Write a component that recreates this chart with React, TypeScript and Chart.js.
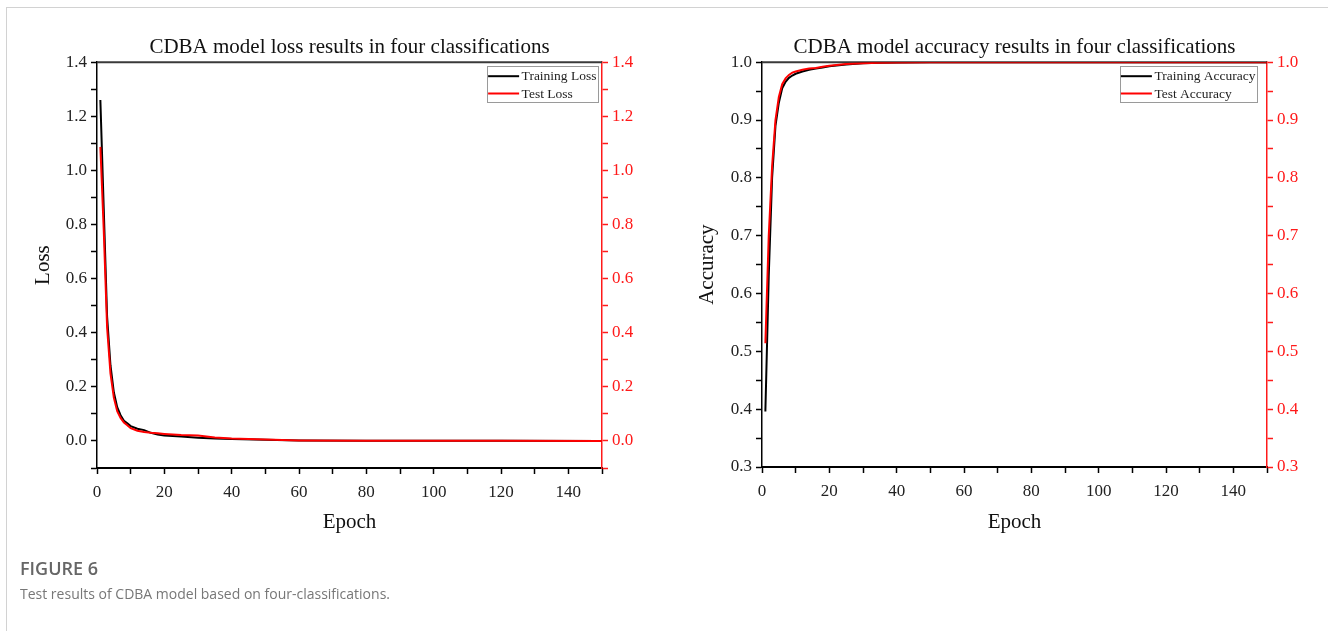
import React, { useEffect, useRef } from "react";
import { Chart, registerables } from "chart.js";

Chart.register(...registerables);

// ---------- data ----------
const lossEpochs = [1, 2, 3, 4, 5, 6, 7, 8, 9, 10, 12, 14, 16, 18, 20, 25, 30, 35, 40, 50, 60, 80, 100, 120, 150];
const trainLoss = [1.26, 0.86, 0.46, 0.28, 0.18, 0.125, 0.095, 0.075, 0.065, 0.055, 0.045, 0.04, 0.03, 0.024, 0.02, 0.016, 0.012, 0.009, 0.007, 0.004, 0.002, 0.001, 0.0005, 0.0003, 0.0002];
const testLoss = [1.087, 0.78, 0.42, 0.25, 0.16, 0.11, 0.085, 0.068, 0.058, 0.047, 0.038, 0.033, 0.03, 0.028, 0.026, 0.022, 0.02, 0.013, 0.009, 0.005, 0.002, 0.001, 0.0005, 0.0003, 0.0002];

const accEpochs = [1, 2, 3, 4, 5, 6, 7, 8, 9, 10, 12, 14, 16, 18, 20, 25, 30, 35, 40, 50, 60, 80, 100, 120, 150];
const trainAcc = [0.396, 0.63, 0.8, 0.89, 0.93, 0.955, 0.966, 0.973, 0.977, 0.98, 0.984, 0.987, 0.989, 0.991, 0.993, 0.996, 0.998, 0.999, 0.9995, 1, 1, 1, 1, 1, 1];
const testAcc = [0.514, 0.7, 0.82, 0.9, 0.94, 0.962, 0.972, 0.978, 0.982, 0.984, 0.987, 0.989, 0.99, 0.992, 0.994, 0.997, 0.998, 0.999, 0.9995, 1, 1, 1, 1, 1, 1];

const epochTicks = [0, 10, 20, 30, 40, 50, 60, 70, 80, 90, 100, 110, 120, 130, 140, 150];
const epochLabels = [0, 20, 40, 60, 80, 100, 120, 140];
const lossTicks = [-0.1, 0, 0.1, 0.2, 0.3, 0.4, 0.5, 0.6, 0.7, 0.8, 0.9, 1.0, 1.1, 1.2, 1.3, 1.4];
const lossLabels = [0, 0.2, 0.4, 0.6, 0.8, 1.0, 1.2, 1.4];
const accTicks = [0.3, 0.35, 0.4, 0.45, 0.5, 0.55, 0.6, 0.65, 0.7, 0.75, 0.8, 0.85, 0.9, 0.95, 1.0];
const accLabels = [0.3, 0.4, 0.5, 0.6, 0.7, 0.8, 0.9, 1.0];

const SERIF = "'Liberation Serif', 'Times New Roman', serif";
const RED = "#ff1a1a";

const framePlugin = {
  id: "frame",
  beforeDatasetsDraw(chart: any) {
    const { ctx, chartArea: a } = chart;
    ctx.save();
    ctx.strokeStyle = "#3a3a3a";
    ctx.lineWidth = 2;
    ctx.beginPath();
    ctx.moveTo(a.left, a.top);
    ctx.lineTo(a.right, a.top);
    ctx.stroke();
    ctx.restore();
  },
  afterDraw(chart: any, _args: any, opts: any) {
    const { ctx, chartArea: a } = chart;
    const items = chart.data.datasets;
    ctx.save();
    ctx.font = `13.5px ${SERIF}`;
    const textW = Math.max(...items.map((d: any) => ctx.measureText(d.label).width));
    const padL = 1, lineLen = 31, gap = 2.5, padR = 1.5;
    const w = padL + lineLen + gap + textW + padR;
    const h = 36;
    const x = a.right - (opts.rightGap || 4) - w;
    const y = a.top + 4;
    ctx.fillStyle = "#fff";
    ctx.fillRect(x, y, w, h);
    ctx.strokeStyle = "#9a9a9a";
    ctx.lineWidth = 1;
    ctx.strokeRect(Math.round(x) + 0.5, Math.round(y) + 0.5, Math.round(w), Math.round(h));
    items.forEach((d: any, i: number) => {
      const cy = y + 10 + i * 17.3;
      ctx.strokeStyle = d.borderColor;
      ctx.lineWidth = 2;
      ctx.beginPath();
      ctx.moveTo(x + padL, cy);
      ctx.lineTo(x + padL + lineLen, cy);
      ctx.stroke();
      ctx.fillStyle = "#222";
      ctx.textBaseline = "middle";
      ctx.textAlign = "left";
      ctx.fillText(d.label, x + padL + lineLen + gap, cy + 0.5);
    });
    ctx.restore();
  },
};

function near(list: number[], v: number) {
  return list.some((l) => Math.abs(l - v) < 1e-6);
}

function makeConfig(p: any) {
  const yTickOpts = (color: string) => ({
    color,
    font: { family: SERIF, size: 17 },
    padding: 4,
    autoSkip: false,
    callback: (v: number) => (near(p.yLabels, v) ? v.toFixed(1) : ""),
  });
  return {
    type: "line",
    data: {
      datasets: [
        {
          label: p.trainLabel,
          data: p.epochs.map((e: number, i: number) => ({ x: e, y: p.train[i] })),
          borderColor: "#000000",
          borderWidth: 2,
          pointRadius: 0,
          tension: 0,
          order: 2,
          yAxisID: "y",
        },
        {
          label: p.testLabel,
          data: p.epochs.map((e: number, i: number) => ({ x: e, y: p.test[i] })),
          borderColor: "#ff0000",
          borderWidth: 2,
          pointRadius: 0,
          tension: 0,
          order: 1,
          yAxisID: "y",
        },
      ],
    },
    options: {
      animation: false,
      responsive: false,
      maintainAspectRatio: false,
      layout: { padding: 0 },
      plugins: {
        legend: { display: false },
        tooltip: { enabled: false },
        title: {
          display: true,
          text: p.title,
          fullSize: false,
          color: "#111",
          font: { family: SERIF, size: 21, weight: "normal", lineHeight: 1.2 },
          padding: { top: 35, bottom: 2 },
        },
        frame: { rightGap: p.legendGap },
      },
      scales: {
        x: {
          type: "linear",
          min: 0,
          max: 150,
          afterBuildTicks: (s: any) => {
            s.ticks = epochTicks.map((v) => ({ value: v }));
          },
          afterFit: (s: any) => {
            s.height = p.xHeight;
          },
          ticks: {
            color: "#222",
            font: { family: SERIF, size: 17 },
            padding: 8,
            autoSkip: false,
            maxRotation: 0,
            callback: (v: number) => (near(epochLabels, v) ? String(v) : ""),
          },
          grid: { drawOnChartArea: false, drawTicks: true, tickLength: 6, tickColor: "#000", tickWidth: 1.5 },
          border: { display: true, color: "#000", width: 2 },
          title: {
            display: true,
            text: "Epoch",
            color: "#111",
            font: { family: SERIF, size: 21, lineHeight: 1.2 },
            padding: { top: 0, bottom: 25 },
          },
        },
        y: {
          type: "linear",
          position: "left",
          min: p.yMin,
          max: p.yMax,
          afterBuildTicks: (s: any) => {
            s.ticks = p.yTicks.map((v: number) => ({ value: v }));
          },
          afterFit: (s: any) => {
            s.width = p.leftWidth;
          },
          ticks: yTickOpts("#222"),
          grid: { drawOnChartArea: false, drawTicks: true, tickLength: 6, tickColor: "#000", tickWidth: 1.5 },
          border: { display: true, color: "#000", width: 1.5 },
          title: {
            display: true,
            text: p.yTitle,
            color: "#111",
            font: { family: SERIF, size: 21, lineHeight: 1.2 },
            padding: { top: 31, bottom: 0 },
          },
        },
        y2: {
          type: "linear",
          position: "right",
          min: p.yMin,
          max: p.yMax,
          afterBuildTicks: (s: any) => {
            s.ticks = p.yTicks.map((v: number) => ({ value: v }));
          },
          afterFit: (s: any) => {
            s.width = p.rightWidth;
          },
          ticks: yTickOpts(RED),
          grid: { drawOnChartArea: false, drawTicks: true, tickLength: 6, tickColor: RED, tickWidth: 1.5 },
          border: { display: true, color: RED, width: 1.5 },
        },
      },
    },
    plugins: [framePlugin],
  };
}

function ChartBox({ config, left, width, height }: any) {
  const ref = useRef<HTMLCanvasElement | null>(null);
  useEffect(() => {
    if (!ref.current) return;
    const chart = new Chart(ref.current, config as any);
    return () => chart.destroy();
  }, []);
  return (
    <canvas
      ref={ref}
      width={width}
      height={height}
      style={{ position: "absolute", left, top: 0, width, height }}
    />
  );
}

const lossConfig = makeConfig({
  epochs: lossEpochs,
  train: trainLoss,
  test: testLoss,
  trainLabel: "Training Loss",
  testLabel: "Test Loss",
  title: "CDBA model loss results in four classifications",
  yTitle: "Loss",
  yMin: -0.1,
  yMax: 1.4,
  yTicks: lossTicks,
  yLabels: lossLabels,
  leftWidth: 97,
  rightWidth: 58,
  xHeight: 92,
  legendGap: 4,
});

const accConfig = makeConfig({
  epochs: accEpochs,
  train: trainAcc,
  test: testAcc,
  trainLabel: "Training Accuracy",
  testLabel: "Test Accuracy",
  title: "CDBA model accuracy results in four classifications",
  yTitle: "Accuracy",
  yMin: 0.3,
  yMax: 1.0,
  yTicks: accTicks,
  yLabels: accLabels,
  leftWidth: 98,
  rightWidth: 61,
  xHeight: 93,
  legendGap: 10,
});

export default function App() {
  return (
    <div style={{ position: "absolute", left: 0, top: 0, width: 1328, height: 631, background: "#fff", overflow: "hidden" }}>
      <div
        style={{
          position: "absolute",
          left: 6,
          top: 7,
          width: 1340,
          height: 700,
          borderTop: "1px solid #d2d2d2",
          borderLeft: "1px solid #d2d2d2",
        }}
      />
      <ChartBox config={lossConfig} left={0} width={660} height={560} />
      <ChartBox config={accConfig} left={664} width={664} height={560} />
      <div
        style={{
          position: "absolute",
          left: 20,
          top: 556,
          fontFamily: "'Open Sans', 'Noto Sans', sans-serif",
          fontWeight: 600,
          fontSize: 18,
          color: "#666",
          lineHeight: "24px",
        }}
      >
        FIGURE 6
      </div>
      <div
        style={{
          position: "absolute",
          left: 20,
          top: 583,
          fontFamily: "'Open Sans', 'Noto Sans', sans-serif",
          fontWeight: 400,
          fontSize: 14,
          color: "#777",
          lineHeight: "22px",
        }}
      >
        Test results of CDBA model based on four-classifications.
      </div>
    </div>
  );
}
